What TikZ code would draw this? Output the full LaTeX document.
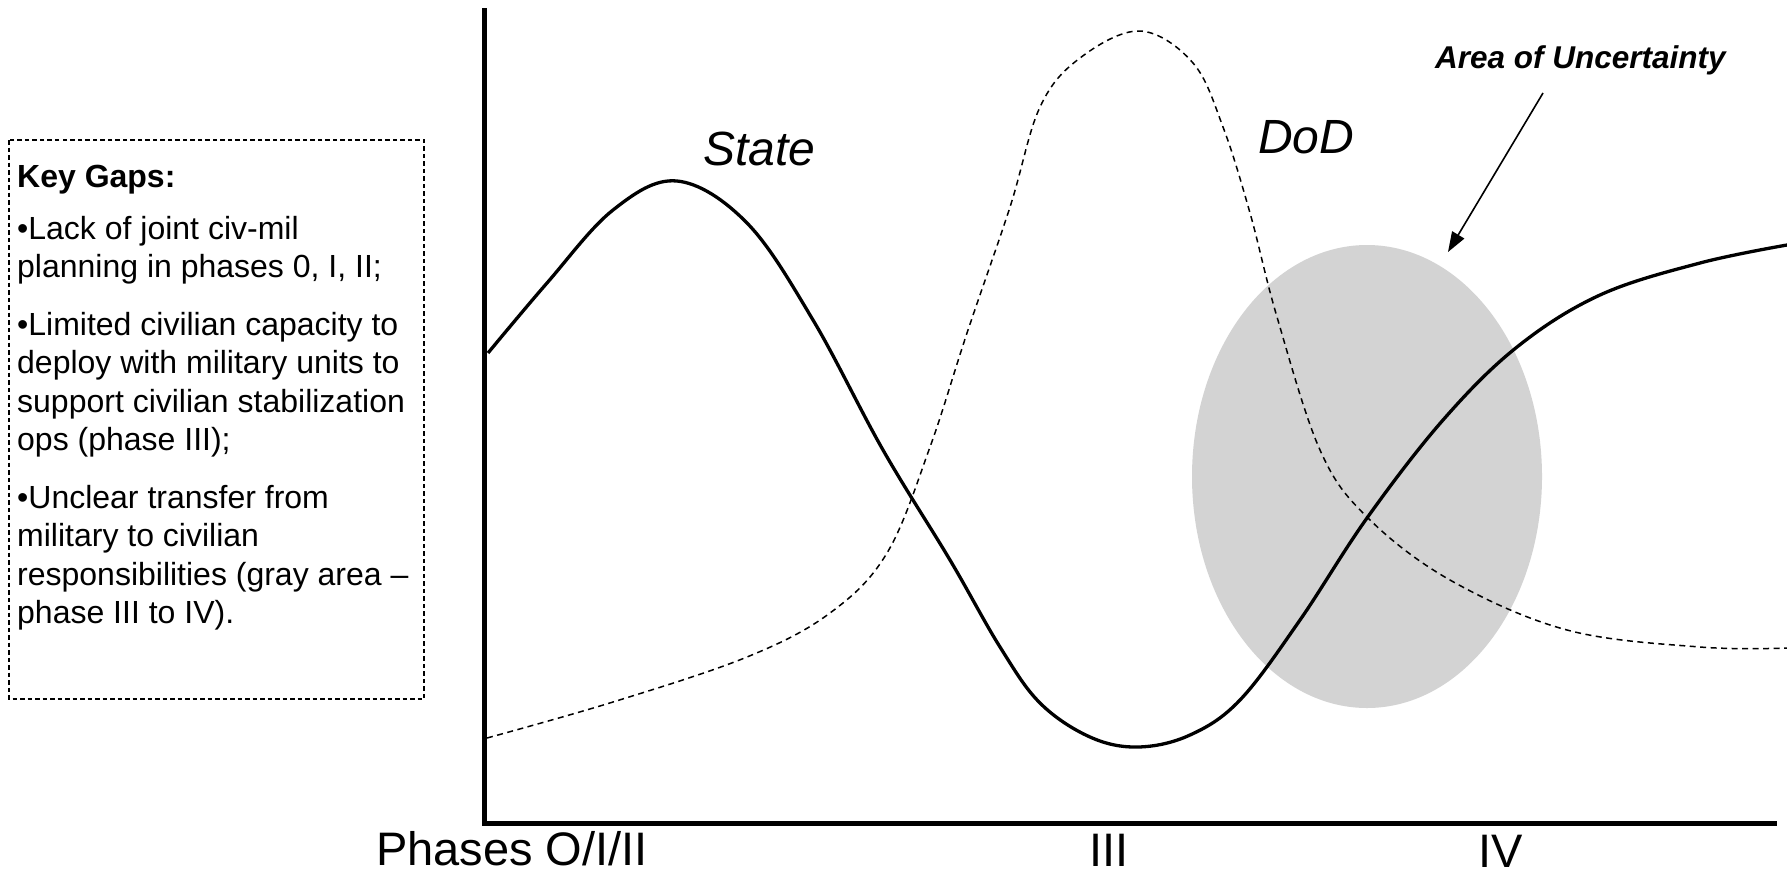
\documentclass[tikz,border=0pt]{standalone}
\usepackage{fontspec}
\setmainfont{Liberation Sans}
\usepackage{tikz}
\usetikzlibrary{arrows.meta}
\definecolor{haze}{HTML}{D3D3D3}
\definecolor{ink}{HTML}{000000}

\begin{document}
\begin{tikzpicture}[x=1pt, y=-1pt,
    curvelbl/.style={font=\fontsize{48}{56}\selectfont\itshape, anchor=base west, inner sep=0},
    phaselbl/.style={font=\fontsize{47}{56}\selectfont, anchor=base, inner sep=0}]
  \useasboundingbox (0,0) rectangle (1787,876);
  % grey area behind
  \fill[haze] (1367,476.5) ellipse[x radius=175, y radius=231.5];
  % key gaps box
  \draw[ink, line width=1.3pt, dash pattern=on 4.5pt off 3pt] (9,140) rectangle (424,699);
  \node[anchor=north west, inner sep=0, align=left, font=\fontsize{32}{38.5}\selectfont] (gaps) at (17,165)
    {\textbf{Key Gaps:}\\[13pt]
     •Lack of joint civ-mil\\
     planning in phases 0, I, II;\\[19pt]
     •Limited civilian capacity to\\
     deploy with military units to\\
     support civilian stabilization\\
     ops (phase III);\\[19pt]
     •Unclear transfer from\\
     military to civilian\\
     responsibilities (gray area –\\
     phase III to IV).};
  % axes
  \draw[ink, line width=5pt] (484,8) -- (484,823) -- (1777,823);
  % DoD curve: low start, tall peak in phase III, then levels off
  \draw[ink, line width=1.5pt, dash pattern=on 6pt off 4.5pt] plot[smooth, tension=0.6] coordinates
    {(487,738)(613,702)(747,657)(830,613)(887,553)(930,447)(967,333)(1010,207)(1040,107)(1080,58)
     (1140,31)(1193,63)(1223,127)(1250,213)(1277,317)(1320,450)(1367,517)(1450,580)(1567,630)
     (1700,647)(1787,648)};
  % State curve: early hump, dip in phase III, rise in phase IV
  \draw[ink, line width=3.3pt] plot[smooth, tension=0.6] coordinates
    {(488,353)(547,283)(613,210)(677,181)(747,223)(813,320)(883,450)(950,560)(1000,647)(1040,703)
     (1090,737)(1138,747)(1190,735)(1240,700)(1300,620)(1367,518)(1443,420)(1517,347)(1600,295)
     (1700,263)(1787,245)};
  % labels
  \node[curvelbl] (state) at (703,165) {State};
  \node[curvelbl] (dod) at (1258,153) {DoD};
  \node[anchor=base west, inner sep=0, font=\fontsize{31.5}{38}\selectfont\bfseries\itshape] (uncert) at (1435,68) {Area of Uncertainty};
  \coordinate (uncert tail) at (1543,93);
  \coordinate (uncert tip) at (1448,252);
  \draw[ink, line width=1.6pt, -{Triangle[length=20pt, width=14pt]}] (uncert tail) -- (uncert tip);
  \node[phaselbl, anchor=base west] (ph0) at (376,865) {Phases O/I/II};
  \node[phaselbl] (ph3) at (1109,866) {III};
  \node[phaselbl] (ph4) at (1501,867) {IV};
\end{tikzpicture}
\end{document}
